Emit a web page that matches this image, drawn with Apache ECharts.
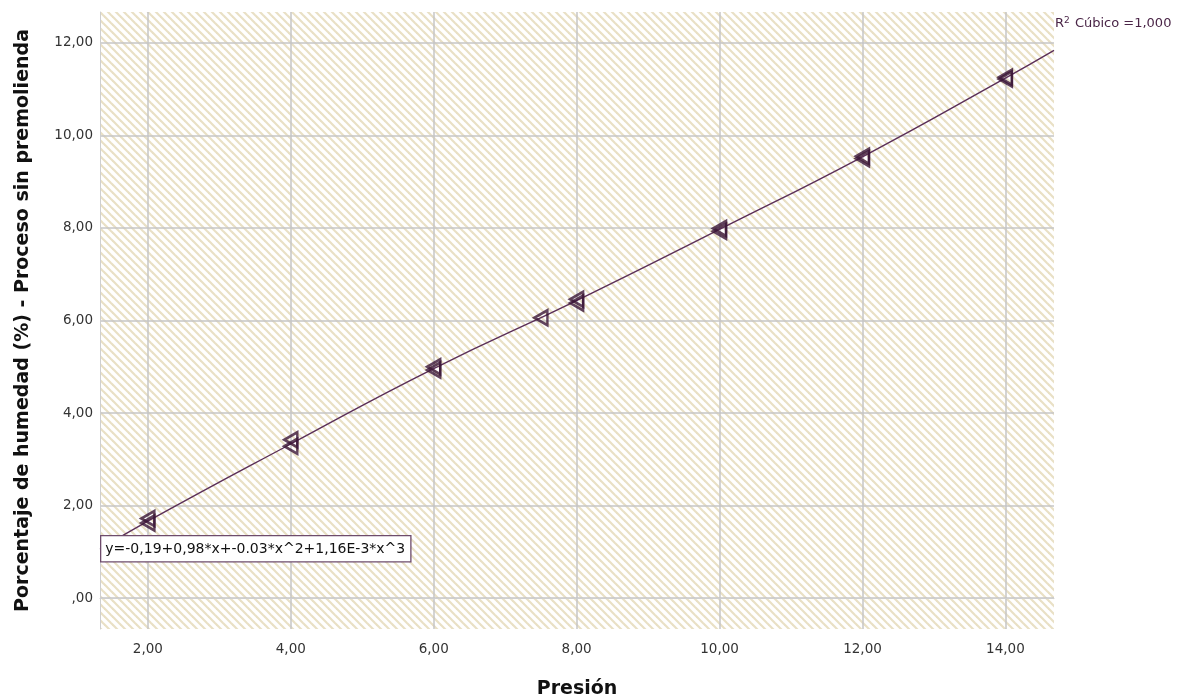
<!DOCTYPE html>
<html><head><meta charset="utf-8">
<script src="https://cdn.jsdelivr.net/npm/echarts@6/dist/echarts.min.js"></script>
<style>html,body{margin:0;padding:0;background:#fff}#c{width:1177px;height:697px}</style>
</head><body><div id="c"></div>
<script>
const xTicks = [2, 4, 6, 8, 10, 12, 14];
const yTicks = [0, 2, 4, 6, 8, 10, 12];
const pointsX = [2, 2, 4, 4, 6, 6, 7.5, 8, 8, 10, 10, 12, 12, 14, 14];
const pointsY = [1.62, 1.72, 3.28, 3.42, 4.93, 5.00, 6.06, 6.38, 6.46, 7.93, 7.99, 9.50, 9.55, 11.22, 11.26];
const fitX = [1.33, 2, 4, 6, 8, 10, 12, 14, 14.68];
const fitY = [1.05, 1.66, 3.33, 4.96, 6.43, 7.97, 9.54, 11.24, 11.84];
const equationText = 'y=-0,19+0,98*x+-0.03*x^2+1,16E-3*x^3';

function fmt(v){ if (Math.abs(v) < 1e-9) return ',00'; return v.toFixed(2).replace('.', ','); }

const tile = document.createElement('canvas');
tile.width = 8; tile.height = 8;
const tc = tile.getContext('2d');
tc.fillStyle = '#ffffff'; tc.fillRect(0,0,8,8);
tc.strokeStyle = '#e9e0c5'; tc.lineWidth = 2.2;
for (let k = -1; k <= 1; k++) { tc.beginPath(); tc.moveTo(-1, k*8 - 1); tc.lineTo(9, k*8 + 9); tc.stroke(); }

const chart = echarts.init(document.getElementById('c'));
const font = 'DejaVu Sans, Liberation Sans, sans-serif';
chart.setOption({
  animation: false,
  grid: { left: 100, right: 123, top: 12, bottom: 68, show: true, outerBoundsMode: 'none', containLabel: false,
          backgroundColor: { image: tile, repeat: 'repeat' }, borderWidth: 0 },
  xAxis: {
    type: 'value', min: 1.33, max: 14.68,
    name: 'Presión', nameLocation: 'middle', nameGap: 51,
    nameTextStyle: { fontFamily: font, fontSize: 19, fontWeight: 'bold', color: '#111' },
    axisLine: { show: true, lineStyle: { color: '#cfcfcf', width: 1 } },
    axisTick: { show: false, customValues: xTicks },
    axisLabel: { customValues: xTicks, formatter: fmt, fontFamily: font, fontSize: 13.5, color: '#333', margin: 13 },
    splitLine: { show: true, lineStyle: { color: '#c6c6c6', width: 1.5 } }
  },
  yAxis: {
    type: 'value', min: -0.67, max: 12.67,
    name: 'Porcentaje de humedad (%) - Proceso sin premolienda', nameLocation: 'middle', nameGap: 67,
    nameTextStyle: { fontFamily: font, fontSize: 19, fontWeight: 'bold', color: '#111' },
    axisLine: { show: true, lineStyle: { color: '#cfcfcf', width: 1 } },
    axisTick: { show: false, customValues: yTicks },
    axisLabel: { customValues: yTicks, formatter: fmt, fontFamily: font, fontSize: 13.5, color: '#333', margin: 7 },
    splitLine: { show: true, lineStyle: { color: '#c6c6c6', width: 1.5 } }
  },
  series: [
    { type: 'line', data: fitX.map((x,i)=>[x, fitY[i]]), smooth: true, showSymbol: false, symbol: 'none',
      lineStyle: { color: '#5b2f58', width: 1.4 }, z: 3 },
    { type: 'scatter', data: pointsX.map((x,i)=>[x, pointsY[i]]), symbol: 'triangle', symbolRotate: 90,
      symbolSize: [15, 13],
      itemStyle: { color: 'rgba(255,255,255,0)', borderColor: '#3a1536', borderWidth: 2.6 }, z: 4 }
  ],
  graphic: [
    { type: 'text', left: 100, top: 535, z: 10,
      style: { text: equationText, fontFamily: font, fontSize: 14, fill: '#111',
               backgroundColor: '#fff', borderColor: '#6e4c6c', borderWidth: 1.3,
               padding: [6, 5, 5, 4] } },
    { type: 'text', left: 1055, top: 16, z: 10,
      style: { rich: { a: { fontFamily: font, fontSize: 13, fill: '#4a2547' },
                       s: { fontFamily: font, fontSize: 9, fill: '#4a2547', verticalAlign: 'top', padding: [0,1,6,0] } },
               text: '{a|R}{s|2}{a| Cúbico =1,000}' } }
  ]
});
</script></body></html>
